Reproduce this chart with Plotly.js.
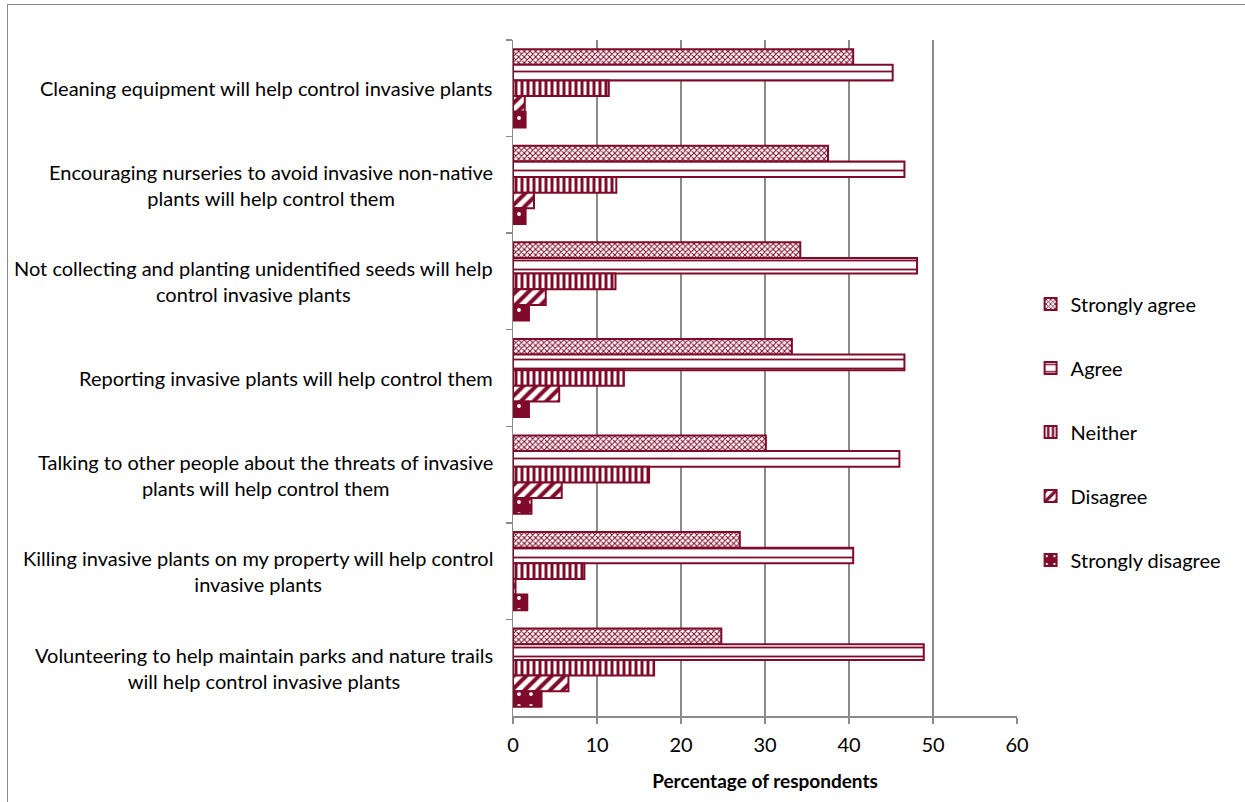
<!DOCTYPE html>
<html>
<head>
<meta charset="utf-8">
<script src="https://cdn.plot.ly/plotly-3.0.1.min.js"></script>
<style>
  html, body { margin: 0; padding: 0; background: #fff; }
  #frame { position: absolute; left: 7px; top: 4px; width: 1300px; height: 900px;
           border-top: 1.5px solid #8a8a8a; border-left: 1.5px solid #8a8a8a; }
  #chart { position: absolute; left: 0; top: 0; width: 1245px; height: 802px; }
</style>
</head>
<body>
<div id="frame"></div>
<div id="chart"></div>
<script>
const categories = [
  "Cleaning equipment will help control invasive plants",
  "Encouraging nurseries to avoid invasive non-native<br>plants will help control them",
  "Not collecting and planting unidentified seeds will help<br>control invasive plants",
  "Reporting invasive plants will help control them",
  "Talking to other people about the threats of invasive<br>plants will help control them",
  "Killing invasive plants on my property will help control<br>invasive plants",
  "Volunteering to help maintain parks and nature trails<br>will help control invasive plants"
];
const seriesNames = ["Strongly agree", "Agree", "Neither", "Disagree", "Strongly disagree"];
const stronglyAgree    = [40.5, 37.5, 34.2, 33.2, 30.1, 27.0, 24.8];
const agree            = [45.2, 46.6, 48.1, 46.6, 46.0, 40.5, 48.9];
const neither          = [11.4, 12.3, 12.2, 13.2, 16.2, 8.5, 16.8];
const disagree         = [1.4, 2.5, 3.9, 5.5, 5.8, 0.3, 6.6];
const stronglyDisagree = [1.5, 1.5, 1.9, 1.9, 2.2, 1.7, 3.4];
const xTickVals = [0, 10, 20, 30, 40, 50, 60];
const xTitle = "Percentage of respondents";

const RED = "#7f0a2a";
const FONT = "Lato, 'Open Sans', sans-serif";
const FS = 20;
const seriesValues = [stronglyAgree, agree, neither, disagree, stronglyDisagree];
const patterns = [
  {shape: "x", fgcolor: RED, bgcolor: "#ffffff", size: 4, solidity: 0.45},
  {shape: "-", fgcolor: RED, bgcolor: "#ffffff", size: 9, solidity: 0.2},
  {shape: "|", fgcolor: RED, bgcolor: "#ffffff", size: 6, solidity: 0.5},
  {shape: "/", fgcolor: RED, bgcolor: "#ffffff", size: 9, solidity: 0.45},
  {shape: ".", fgcolor: "#ffffff", bgcolor: RED, size: 12, solidity: 0.08}
];

const traces = seriesNames.map((name, i) => ({
  type: "bar",
  orientation: "h",
  name: name,
  y: categories,
  x: seriesValues[i],
  legendgroup: "g" + i,
  marker: {
    color: "#ffffff",
    pattern: patterns[i],
    line: {color: RED, width: 2}
  },
  hoverinfo: "x+name"
}));

const annotations = categories.map(c => ({
  xref: "paper", yref: "y", x: 0, y: c,
  xanchor: "right", yanchor: "middle", xshift: -18,
  align: "center", showarrow: false, text: c,
  font: {family: FONT, size: FS, color: "#000"}
}));

const layout = {
  width: 1245, height: 802,
  margin: {l: 513, r: 228, t: 40, b: 86},
  paper_bgcolor: "rgba(0,0,0,0)",
  plot_bgcolor: "rgba(0,0,0,0)",
  barmode: "group",
  bargap: 0.19,
  bargroupgap: 0,
  font: {family: FONT, size: FS, color: "#000"},
  showlegend: true,
  legend: {
    x: 1.027, xanchor: "left", y: 0.42, yanchor: "middle",
    traceorder: "grouped", tracegroupgap: 35,
    font: {family: FONT, size: FS, color: "#000"},
    itemwidth: 30
  },
  xaxis: {
    range: [0, 60], tickvals: xTickVals, ticktext: xTickVals.map(String),
    showgrid: true, gridcolor: "#8a8a8a", gridwidth: 1.5,
    zeroline: false, showline: true, linecolor: "#8a8a8a", linewidth: 1.5,
    ticks: "outside", ticklen: 6, tickcolor: "#8a8a8a", tickwidth: 1.5,
    ticklabelstandoff: 4,
    tickfont: {family: FONT, size: FS},
    title: {text: "<b>" + xTitle + "</b>", font: {family: FONT, size: 19}, standoff: 20}
  },
  yaxis: {
    autorange: "reversed", type: "category",
    showticklabels: false, showgrid: false, zeroline: false,
    showline: true, linecolor: "#8a8a8a", linewidth: 1.5,
    ticks: "outside", tickson: "boundaries", ticklen: 6, tickcolor: "#8a8a8a", tickwidth: 1.5
  },
  annotations: annotations
};

Plotly.newPlot("chart", traces, layout, {displayModeBar: false, staticPlot: true});
</script>
</body>
</html>
